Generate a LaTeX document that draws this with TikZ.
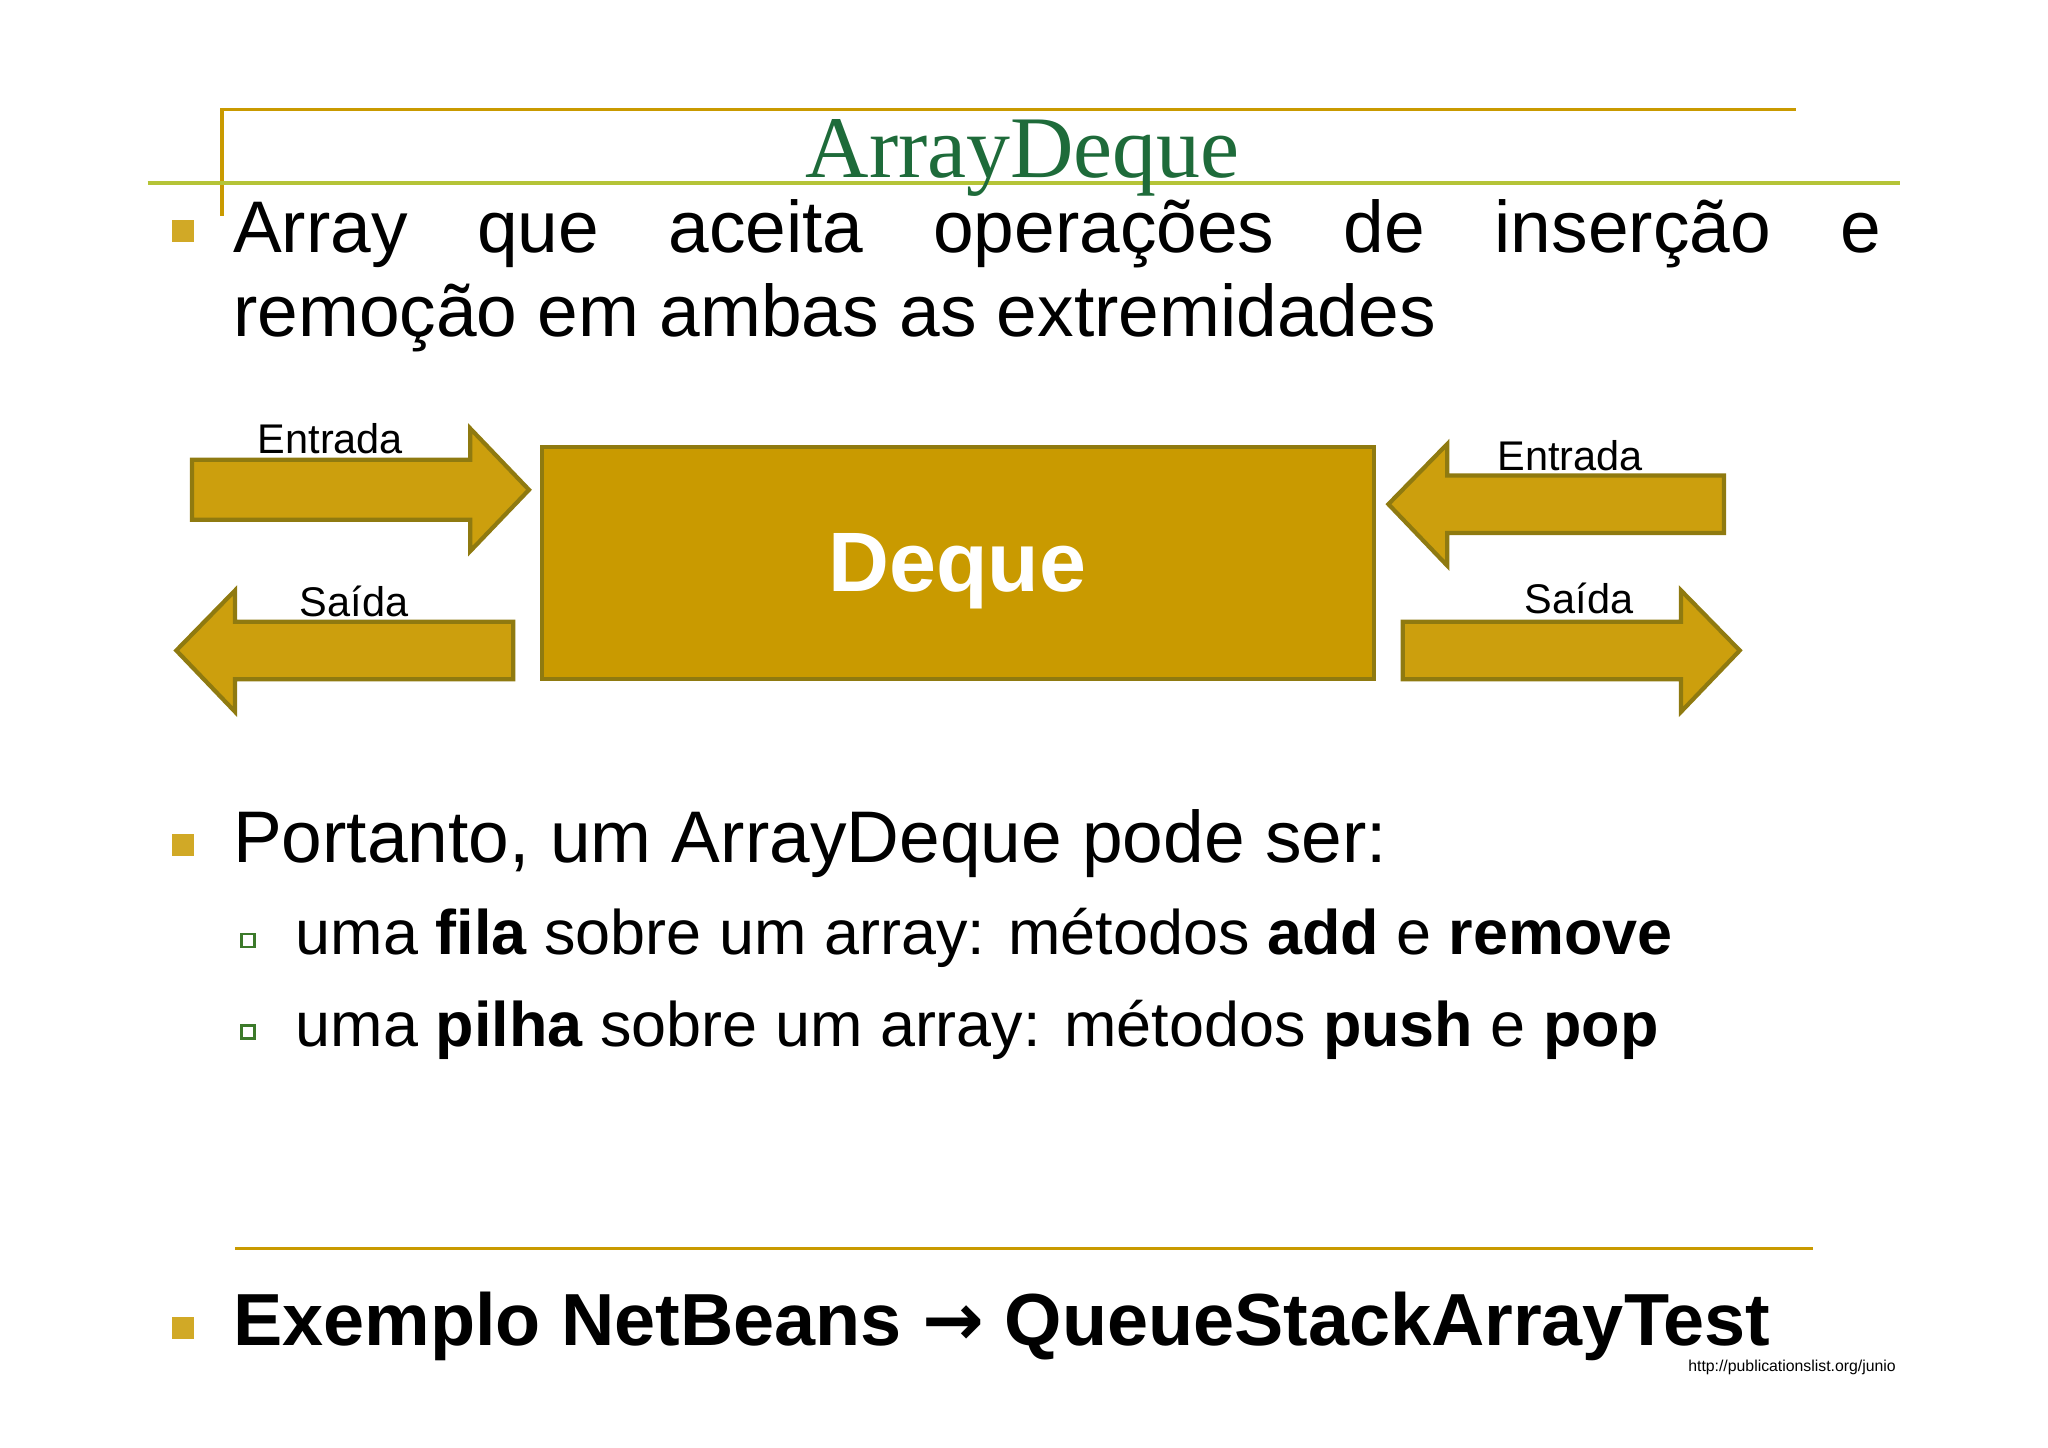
\documentclass[tikz,border=0pt]{standalone}
\usepackage{fontspec}
\setmainfont{Liberation Sans}
\newfontfamily\titlefont{Liberation Serif}
\newfontfamily\symfont{DejaVu Sans}
\definecolor{gold}{HTML}{C99A00}
\definecolor{golddark}{HTML}{8F7A10}
\definecolor{lime}{HTML}{B5C437}
\definecolor{titlegreen}{HTML}{1E6B3A}
\definecolor{subgreen}{HTML}{3C7A2A}
\tikzset{
  txt/.style      = {anchor=base west, inner sep=0pt, font=\fontsize{20.8}{25}\selectfont},
  subtxt/.style   = {txt, font=\fontsize{17.9}{21}\selectfont},
  bullet/.style   = {fill=gold!85, minimum size=0.22cm, inner sep=0pt},
  subbullet/.style= {draw=subgreen, thick, minimum size=0.13cm, inner sep=0pt},
  arrowbody/.style= {fill=gold!95!white, draw=golddark, line width=1.2pt, line join=miter},
  lbl/.style      = {anchor=base, inner sep=0pt, font=\fontsize{11.8}{14}\selectfont}
}
\begin{document}
\begin{tikzpicture}[x=0.013061cm, y=-0.013061cm]
  \useasboundingbox (0,0) rectangle (1568,1108);
  % title frame
  \draw[gold, line width=1pt] (170,165) -- (170,84) -- (1375,84);
  \draw[lime, line width=1.2pt] (113,140) -- (1455,140);
  \node (title) [anchor=base, inner sep=0pt, text=titlegreen,
    font=\titlefont\fontsize{25}{29}\selectfont] at (783,136) {ArrayDeque};
  % first bullet
  \node (b1) [bullet] at (140,177) {};
  \node (l1) [txt] at (178,193) {\hbox to 16.48cm{Array\hfill que\hfill aceita\hfill operações\hfill de\hfill inserção\hfill e}};
  \node (l2) [txt] at (178,258) {remoção em ambas as extremidades};
  % deque box
  \draw[fill=gold, draw=golddark, line width=1.2pt] (415,342) rectangle (1052,520);
  \node (deque) [text=white, font=\bfseries\fontsize{24}{28}\selectfont] at (733,437) {Deque};
  % arrows
  \draw[arrowbody] (147,352) -- (360,352) -- (360,328) -- (405,375) -- (360,422) -- (360,398) -- (147,398) -- cycle;
  \draw[arrowbody] (393,476) -- (180,476) -- (180,452) -- (135,498) -- (180,545) -- (180,520) -- (393,520) -- cycle;
  \draw[arrowbody] (1320,364) -- (1108,364) -- (1108,340) -- (1063,386) -- (1108,433) -- (1108,408) -- (1320,408) -- cycle;
  \draw[arrowbody] (1074,476) -- (1287,476) -- (1287,452) -- (1332,498) -- (1287,545) -- (1287,520) -- (1074,520) -- cycle;
  \node (inL)  [lbl] at (253,347) {Entrada};
  \node (outL) [lbl] at (271,472) {Saída};
  \node (inR)  [lbl] at (1202,360) {Entrada};
  \node (outR) [lbl] at (1209,470) {Saída};
  % second bullet
  \node (b2) [bullet] at (140,647) {};
  \node (l3) [txt] at (178,660) {Portanto, um ArrayDeque pode ser:};
  \node (s1) [subbullet] at (190,720) {};
  \node (l4) [subtxt] at (226,731) {uma \textbf{fila} sobre um array: métodos \textbf{add} e \textbf{remove}};
  \node (s2) [subbullet] at (190,790) {};
  \node (l5) [subtxt] at (226,801) {uma \textbf{pilha} sobre um array: métodos \textbf{push} e \textbf{pop}};
  % footer
  \draw[gold, line width=1pt] (180,956) -- (1388,956);
  \node (b3) [bullet] at (140,1017) {};
  \node (l6) [txt, font=\bfseries\fontsize{21}{25}\selectfont] at (178,1030)
    {Exemplo NetBeans {\symfont\bfseries →} QueueStackArrayTest};
  \node (url) [anchor=base east, inner sep=0pt, font=\fontsize{4.5}{5}\selectfont] at (1452,1050)
    {http://publicationslist.org/junio};
\end{tikzpicture}
\end{document}
